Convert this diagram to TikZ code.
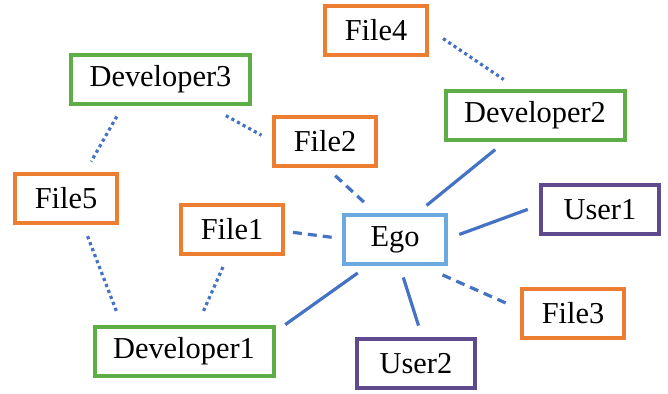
\documentclass[tikz,border=0pt]{standalone}
\usepackage{fontspec}
\setmainfont{Liberation Serif}

\definecolor{linkblue}{HTML}{4472C4}
\definecolor{fileorange}{HTML}{ED7D31}
\definecolor{devgreen}{HTML}{5DAE45}
\definecolor{userpurple}{HTML}{5E4A8C}
\definecolor{egoblue}{HTML}{6AAAE0}

\begin{document}
\begin{tikzpicture}[x=0.5pt,y=-0.5pt,
    box/.style={draw,line width=2pt,inner sep=0pt,minimum height=24.5pt,
      font=\fontsize{15.2}{18}\selectfont},
    filebox/.style={box,draw=fileorange,minimum width=51pt},
    devbox/.style={box,draw=devgreen,minimum width=89.5pt},
    userbox/.style={box,draw=userpurple,minimum width=59pt},
    egobox/.style={box,draw=egoblue,minimum width=51pt},
    dotline/.style={dash pattern=on 1.6pt off 1.6pt},
    dashline/.style={dash pattern=on 4.5pt off 3pt}]

      \useasboundingbox (0,0) rectangle (668,393);

      \node[egobox]  (ego)   at (395,239.5) {Ego};
      \node[devbox]  (dev1)  at (184,351)   {Developer1};
      \node[devbox]  (dev2)  at (535,115.5) {Developer2};
      \node[devbox]  (dev3)  at (160.5,79.5) {Developer3};
      \node[filebox] (file1) at (232,229.5) {File1};
      \node[filebox] (file2) at (325,141)   {File2};
      \node[filebox] (file3) at (573,313)   {File3};
      \node[filebox] (file4) at (376,30)    {File4};
      \node[filebox] (file5) at (66,198.5)  {File5};
      \node[userbox] (user1) at (600,209.5) {User1};
      \node[userbox] (user2) at (416,363.5) {User2};

      \begin{scope}[every edge/.style={draw=linkblue,line width=1.6pt,
          shorten <=6pt,shorten >=6pt}]
        % solid: direct links to ego
        \path (dev1.12.2)  edge (ego.224.3);
        \path (ego.50.6)   edge (dev2.221.9);
        \path (ego.1.4)    edge (user1.176.8);
        \path (ego.280.5)  edge (user2.77.9);
        % dashed: files of ego
        \path (file1.358.5) edge[dashline,shorten <=4pt,shorten >=4pt] (ego.179.5);
        \path (file2.273)   edge[dashline] (ego.126.2);
        \path (ego.316.4)   edge[dashline,shorten <=11pt] (file3.176.1);
        % dotted: other developers and their files
        \path (dev3.215.6)  edge[dotline] (file5.54.9);
        \path (dev3.331.4)  edge[dotline,shorten <=10pt] (file2.180);
        \path (file5.303.5) edge[dotline] (dev1.157);
        \path (file1.261.3) edge[dotline] (dev1.63.3);
        \path (file4.1.7)   edge[dotline,shorten <=8.5pt,shorten >=8.5pt] (dev2.123.3);
      \end{scope}

    \end{tikzpicture}
\end{document}
